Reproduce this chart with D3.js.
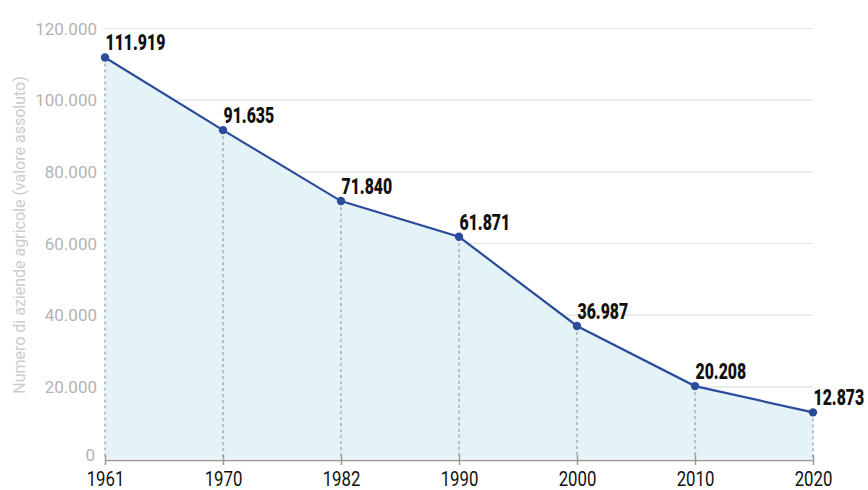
<!DOCTYPE html>
<html>
<head>
<meta charset="utf-8">
<script src="https://cdn.jsdelivr.net/npm/d3@7"></script>
<style>
  body { margin: 0; background: #fff; }
  svg { display: block; }
</style>
</head>
<body>
<div id="chart"></div>
<script>
var years = ["1961", "1970", "1982", "1990", "2000", "2010", "2020"];
var aziende = [111919, 91635, 71840, 61871, 36987, 20208, 12873];
var yTicks = [0, 20000, 40000, 60000, 80000, 100000, 120000];

var width = 868, height = 490;
var data = years.map(function (y, i) { return { year: y, value: aziende[i] }; });

var svg = d3.select('#chart').append('svg')
  .attr('width', width)
  .attr('height', height);

var x = d3.scalePoint().domain(years).range([105, 813]);
var y = d3.scaleLinear().domain([0, 120000]).range([458.5, 28.5]);

var fmt = function (v) { return d3.format(',')(v).replace(/,/g, '.'); };

// gridlines
svg.append('g').selectAll('line')
  .data(yTicks.filter(function (d) { return d > 0; }))
  .enter().append('line')
    .attr('x1', 105).attr('x2', 813)
    .attr('y1', function (d) { return y(d); })
    .attr('y2', function (d) { return y(d); })
    .attr('stroke', '#e2e2e2')
    .attr('stroke-width', 1.2);

// area
var area = d3.area()
  .x(function (d) { return x(d.year); })
  .y0(y(0))
  .y1(function (d) { return y(d.value); });

svg.append('path')
  .datum(data)
  .attr('d', area)
  .attr('fill', '#e3f3f7');

// y tick labels
svg.append('g').selectAll('text')
  .data(yTicks)
  .enter().append('text')
    .attr('x', function (d) { return d === 0 ? 95 : 97; })
    .attr('y', function (d) { return y(d) + (d === 0 ? 2 : 6); })
    .attr('text-anchor', 'end')
    .attr('font-family', 'Roboto, sans-serif')
    .attr('font-size', 17)
    .attr('fill', '#b3b3b3')
    .text(function (d) { return fmt(d); });

// y axis title
svg.append('text')
  .attr('transform', 'translate(25,235) rotate(-90)')
  .attr('text-anchor', 'middle')
  .attr('font-family', 'Roboto, sans-serif')
  .attr('font-size', 16)
  .attr('fill', '#cccccc')
  .text('Numero di aziende agricole (valore assoluto)');

// dashed drop lines
svg.append('g').selectAll('line')
  .data(data)
  .enter().append('line')
    .attr('x1', function (d) { return x(d.year); })
    .attr('x2', function (d) { return x(d.year); })
    .attr('y1', function (d) { return y(d.value); })
    .attr('y2', y(0))
    .attr('stroke', '#8a8a8a')
    .attr('stroke-width', 1)
    .attr('stroke-dasharray', '3,3');

// x axis
var xAxis = svg.append('g')
  .attr('transform', 'translate(0,' + (y(0) + 1.5) + ')')
  .call(d3.axisBottom(x).tickSize(0));
xAxis.select('.domain').attr('stroke', '#9a9a9a').attr('stroke-width', 1.5);
xAxis.selectAll('.tick').append('line')
  .attr('y1', -5).attr('y2', 5)
  .attr('stroke', '#9a9a9a').attr('stroke-width', 1.5);
xAxis.selectAll('.tick text')
  .attr('y', 0).attr('dy', null)
  .attr('transform', 'translate(0,25.5) scale(0.8,1)')
  .attr('font-family', 'Roboto, sans-serif')
  .attr('font-size', 21)
  .attr('fill', '#111');

// line
var line = d3.line()
  .x(function (d) { return x(d.year); })
  .y(function (d) { return y(d.value); });

svg.append('path')
  .datum(data)
  .attr('d', line)
  .attr('fill', 'none')
  .attr('stroke', '#2b4c9b')
  .attr('stroke-width', 2.2);

// points
svg.append('g').selectAll('circle')
  .data(data)
  .enter().append('circle')
    .attr('cx', function (d) { return x(d.year); })
    .attr('cy', function (d) { return y(d.value); })
    .attr('r', 4.2)
    .attr('fill', '#2b4c9b');

// value labels
svg.append('g').selectAll('text')
  .data(data)
  .enter().append('text')
    .attr('transform', function (d) {
      return 'translate(' + (x(d.year) + 0.5) + ',' + (y(d.value) - 7) + ') scale(0.72,1)';
    })
    .attr('font-family', 'Roboto, sans-serif')
    .attr('font-weight', 900)
    .attr('font-size', 22)
    .attr('fill', '#111')
    .text(function (d) { return fmt(d.value); });
</script>
</body>
</html>
